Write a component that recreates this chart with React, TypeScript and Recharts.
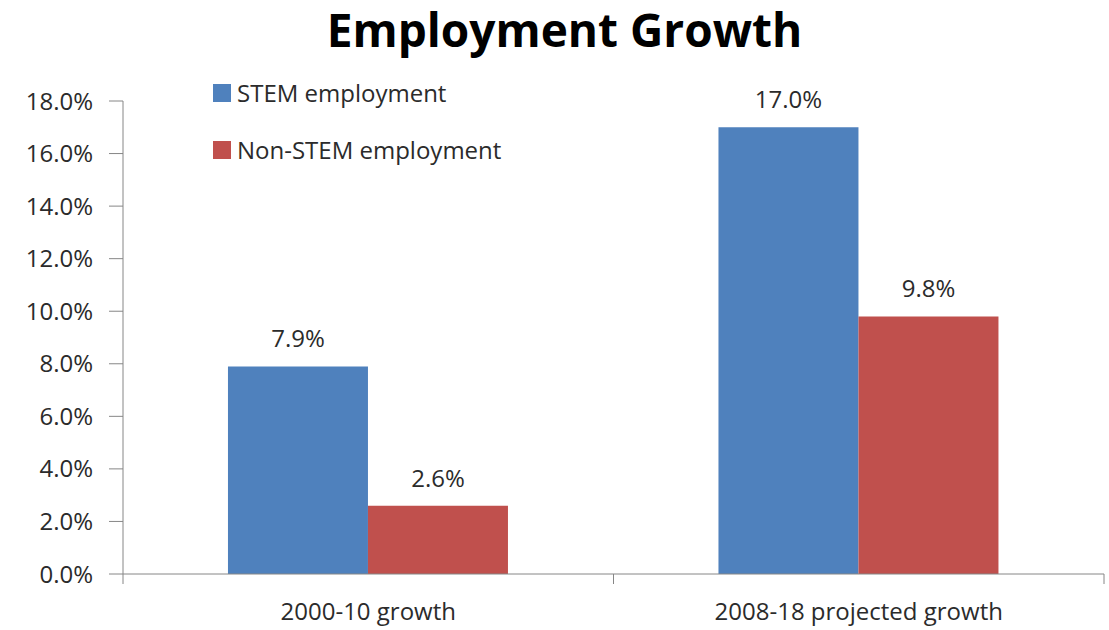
import { Bar, BarChart, LabelList, XAxis, YAxis } from "recharts";

const categories = ["2000-10 growth", "2008-18 projected growth"];
const stemValues = [7.9, 17.0];
const nonStemValues = [2.6, 9.8];
const yTicks = [0, 2, 4, 6, 8, 10, 12, 14, 16, 18];

const series = [
  { key: "stem", name: "STEM employment", color: "#4f81bd" },
  { key: "nonStem", name: "Non-STEM employment", color: "#c0504d" },
];

const data = categories.map((name, i) => ({
  name,
  stem: stemValues[i],
  nonStem: nonStemValues[i],
}));

const W = 1109;
const H = 630;
const MARGIN = { top: 101, right: 5, left: 0, bottom: 0 };
const Y_AXIS_W = 123;
const BAND = (W - MARGIN.left - MARGIN.right - Y_AXIS_W) / categories.length;
const FONT = "'Open Sans', sans-serif";
const AXIS = "#868686";
const TEXT = "#2b2b2b";

const pct = (v: number) => `${v.toFixed(1)}%`;

function CategoryTick(props: any) {
  const { x, y, payload, index } = props;
  const last = index === categories.length - 1;
  return (
    <g>
      <line x1={x - BAND / 2} x2={x - BAND / 2} y1={y} y2={y + 10} stroke={AXIS} />
      {last && <line x1={x + BAND / 2} x2={x + BAND / 2} y1={y} y2={y + 10} stroke={AXIS} />}
      <text x={x} y={y + 46} textAnchor="middle" fill={TEXT} fontSize={24} fontFamily={FONT}>
        {payload.value}
      </text>
    </g>
  );
}

export default function App() {
  return (
    <div style={{ position: "absolute", left: 0, top: 0, width: W, height: H, background: "#fff" }}>
      <div
        style={{
          position: "absolute",
          left: 0,
          width: W,
          top: 0,
          lineHeight: "58px",
          textAlign: "center",
          fontFamily: FONT,
          fontWeight: 700,
          fontSize: 46,
          color: "#000",
          paddingLeft: 20,
          boxSizing: "border-box",
        }}
      >
        Employment Growth
      </div>
      <div style={{ position: "absolute", left: 213, top: 64, fontFamily: FONT, fontSize: 24, color: TEXT }}>
        {series.map((s) => (
          <div key={s.key} style={{ display: "flex", alignItems: "center", height: 57 }}>
            <span style={{ width: 18, height: 18, background: s.color, marginRight: 6 }} />
            {s.name}
          </div>
        ))}
      </div>
      <BarChart width={W} height={H} data={data} margin={MARGIN} barCategoryGap="21.4%" barGap={0}>
        <XAxis
          dataKey="name"
          height={56}
          stroke={AXIS}
          tickLine={false}
          tickSize={0}
          tickMargin={0}
          tick={<CategoryTick />}
          interval={0}
        />
        <YAxis
          width={Y_AXIS_W}
          domain={[0, 18]}
          ticks={yTicks}
          tickFormatter={pct}
          stroke={AXIS}
          tickSize={14}
          tickMargin={16}
          tick={{ fill: TEXT, fontSize: 24, fontFamily: FONT }}
        />
        {series.map((s) => (
          <Bar key={s.key} dataKey={s.key} name={s.name} fill={s.color} isAnimationActive={false}>
            <LabelList dataKey={s.key} position="top" offset={19} formatter={pct} fill={TEXT} fontSize={24} fontFamily={FONT} />
          </Bar>
        ))}
      </BarChart>
    </div>
  );
}
